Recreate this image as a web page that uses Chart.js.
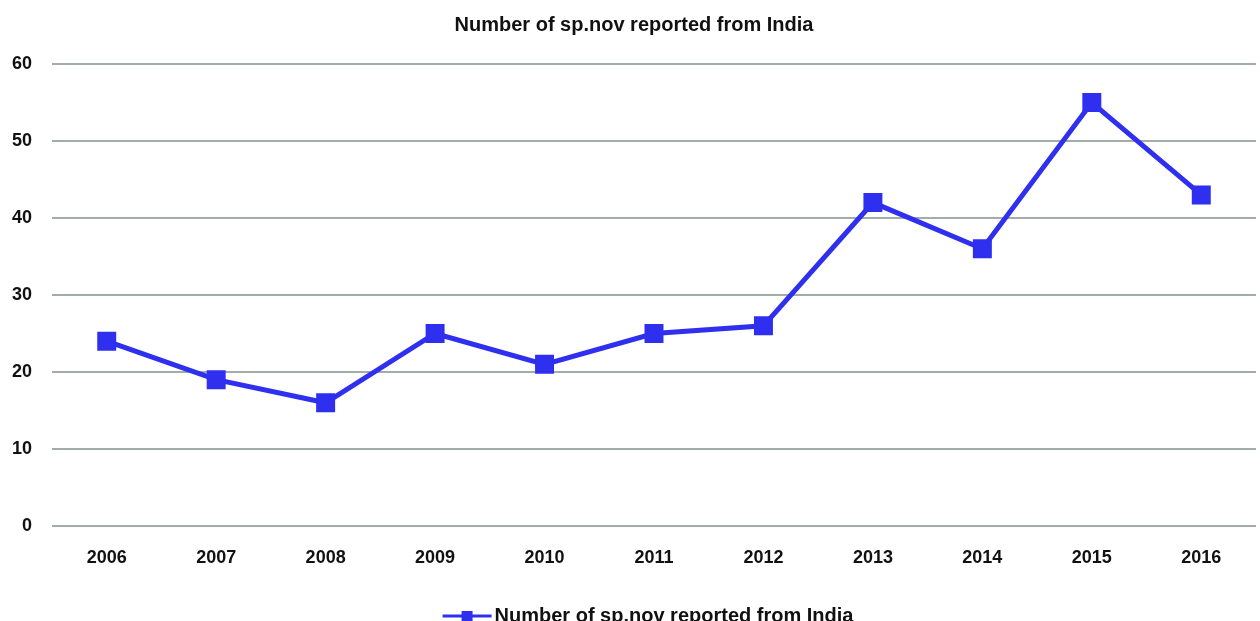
<!DOCTYPE html>
<html>
<head>
<meta charset="utf-8">
<script src="https://cdn.jsdelivr.net/npm/chart.js@4.4.1/dist/chart.umd.min.js"></script>
<style>
  html, body { margin: 0; padding: 0; background: #fff; overflow: hidden; }
  #wrap { width: 1270px; height: 636px; }
</style>
</head>
<body>
<div id="wrap"><canvas id="lineChart" width="1270" height="636"></canvas></div>
<script>
const years = ["2006", "2007", "2008", "2009", "2010", "2011", "2012", "2013", "2014", "2015", "2016"];
const speciesCounts = [24, 19, 16, 25, 21, 25, 26, 42, 36, 55, 43];
const yTicks = [0, 10, 20, 30, 40, 50, 60];
const seriesName = "Number of sp.nov reported from India";

const blue = "#2f2ff0";
const fontFamily = "'Liberation Sans', Arial, sans-serif";

// legend icon: line with a square, drawn a bit right of the box centre
function legendIcon() {
    const c = document.createElement("canvas");
    c.width = 100;
    c.height = 14;
    const g = c.getContext("2d");
    g.strokeStyle = blue;
    g.lineWidth = 3;
    g.beginPath();
    g.moveTo(43, 7);
    g.lineTo(92, 7);
    g.stroke();
    g.fillStyle = blue;
    g.fillRect(62, 2, 11, 10);
    return c;
}

const ctx = document.getElementById("lineChart").getContext("2d");
const myChart = new Chart(ctx, {
    type: 'line',
    data: {
        labels: years,
        datasets: [{
            label: seriesName,
            data: speciesCounts,
            borderColor: blue,
            backgroundColor: blue,
            borderWidth: 5,
            pointStyle: 'rect',
            pointRadius: 12,
            pointBorderWidth: 2,
            pointBackgroundColor: blue,
            pointBorderColor: blue,
            tension: 0
        }]
    },
    options: {
        responsive: false,
        animation: false,
        layout: { padding: { left: 0, right: 2, top: 0, bottom: 0 } },
        scales: {
            x: {
                offset: true,
                grid: { display: false, drawTicks: false },
                border: { display: false },
                ticks: {
                    color: '#111',
                    padding: 21,
                    font: { family: fontFamily, size: 18, weight: 'bold' }
                },
                afterFit: (scale) => { scale.height = 72; }
            },
            y: {
                min: 0,
                max: 60,
                afterBuildTicks: (scale) => {
                    scale.ticks = yTicks.map(v => ({ value: v }));
                },
                grid: {
                    color: '#a2aca8',
                    lineWidth: 2,
                    drawTicks: false
                },
                border: { display: false },
                ticks: {
                    color: '#111',
                    padding: 20,
                    font: { family: fontFamily, size: 18, weight: 'bold' }
                },
                afterFit: (scale) => { scale.width = 52; }
            }
        },
        plugins: {
            title: {
                display: true,
                text: seriesName,
                color: '#111',
                font: { family: fontFamily, size: 20, weight: 'bold' },
                padding: { top: 13, bottom: 27 }
            },
            legend: {
                position: 'bottom',
                labels: {
                    color: '#111',
                    usePointStyle: true,
                    pointStyle: legendIcon(),
                    pointStyleWidth: 70,
                    font: { family: fontFamily, size: 20, weight: 'bold' },
                    padding: 8
                }
            },
            tooltip: { enabled: false }
        }
    }
});
</script>
</body>
</html>
